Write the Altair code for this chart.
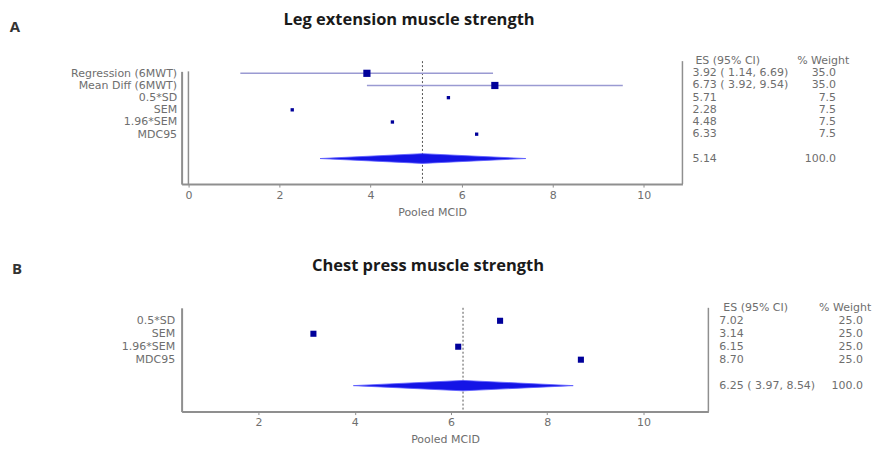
import json
import altair as alt
import pandas as pd

# ---------------- data: panel A (Leg extension) ----------------
A_LABELS = ["Regression (6MWT)", "Mean Diff (6MWT)", "0.5*SD", "SEM", "1.96*SEM", "MDC95"]
A_ES = [3.92, 6.73, 5.71, 2.28, 4.48, 6.33]
A_LO = [1.14, 3.92, None, None, None, None]
A_HI = [6.69, 9.54, None, None, None, None]
A_WEIGHT = [35.0, 35.0, 7.5, 7.5, 7.5, 7.5]
A_POOLED = 5.14
A_POOLED_LO = 2.89
A_POOLED_HI = 7.41
A_POOLED_SHOW_CI = False
A_TICKS = [0, 2, 4, 6, 8, 10]
A_TITLE = "Leg extension muscle strength"

# ---------------- data: panel B (Chest press) ----------------
B_LABELS = ["0.5*SD", "SEM", "1.96*SEM", "MDC95"]
B_ES = [7.02, 3.14, 6.15, 8.70]
B_LO = [None, None, None, None]
B_HI = [None, None, None, None]
B_WEIGHT = [25.0, 25.0, 25.0, 25.0]
B_POOLED = 6.25
B_POOLED_LO = 3.97
B_POOLED_HI = 8.54
B_POOLED_SHOW_CI = True
B_TICKS = [2, 4, 6, 8, 10]
B_TITLE = "Chest press muscle strength"

TEXT = "#6e6e6e"
AXIS = "#8f8f8f"
SQUARE = "#00009a"
CI = "#9a9ad2"
DIAMOND = "#1414e6"
FONT = "DejaVu Sans"
TFONT = "Open Sans"


def fmt_es(es, lo, hi):
    if lo is None or pd.isna(lo):
        return f"{es:.2f}"
    return f"{es:.2f} ( {lo:.2f}, {hi:.2f})"


def panel(labels, es, lo, hi, weight, pooled, plo, phi, show_ci, ticks, title, letter,
          xdom, ydom, width, height, size_max, geo):
    n = len(labels)
    prow = n + 1
    rows = pd.DataFrame({"row": list(range(n)), "es": es, "lo": lo, "hi": hi, "w": weight})
    ci = rows.dropna(subset=["lo"])

    xs = alt.Scale(domain=xdom, nice=False, zero=False)
    ys = alt.Scale(domain=ydom, nice=False, zero=False, reverse=True)
    xaxis = alt.Axis(values=ticks, format="d", grid=False, title="Pooled MCID",
                     domainColor=AXIS, domainWidth=2, tickColor=AXIS, tickSize=3,
                     labelColor=TEXT, labelFont=FONT, labelFontSize=11, labelPadding=2,
                     labelFlush=False, titleFont=FONT, titleFontSize=11,
                     titleFontWeight="normal", titleColor=TEXT, titlePadding=6)
    yaxis = alt.Axis(values=list(range(n)), labelExpr=f"{json.dumps(labels)}[datum.value]",
                     grid=False, ticks=False, title=None, domainColor=AXIS, domainWidth=2,
                     labelColor=TEXT, labelFont=FONT, labelFontSize=11,
                     labelPadding=geo["ylabpad"], labelOverlap=False, labelFlush=False)

    def X(f):
        return alt.X(f, type="quantitative", scale=xs, axis=xaxis)

    def Y(f):
        return alt.Y(f, type="quantitative", scale=ys, axis=yaxis)

    layers = []
    # vertical reference lines
    if xdom[0] < 0:
        null_df = pd.DataFrame({"x": [0], "y": [ydom[0]], "y2": [ydom[1]]})
        layers.append(alt.Chart(null_df).mark_rule(color=AXIS, strokeWidth=1.5).encode(
            x=X("x"), y=Y("y"), y2="y2"))
    sep_df = pd.DataFrame({"x": [xdom[1]], "y": [-1], "y2": [ydom[1]]})
    layers.append(alt.Chart(sep_df).mark_rule(color=AXIS, strokeWidth=1.5).encode(
        x=X("x"), y=Y("y"), y2="y2"))
    pool_df = pd.DataFrame({"x": [pooled], "y": [-1], "y2": [ydom[1]]})
    layers.append(alt.Chart(pool_df).mark_rule(color="#555555", strokeWidth=1,
                                               strokeDash=[2, 2]).encode(
        x=X("x"), y=Y("y"), y2="y2"))
    # confidence intervals
    if len(ci):
        layers.append(alt.Chart(ci).mark_rule(color=CI, strokeWidth=1.5).encode(
            x=X("lo"), x2="hi", y=Y("row")))
    # squares sized by weight
    layers.append(alt.Chart(rows).mark_point(shape="square", filled=True, opacity=1,
                                             color=SQUARE).encode(
        x=X("es"), y=Y("row"),
        size=alt.Size("w", type="quantitative",
                      scale=alt.Scale(domain=[0, max(weight)], range=[0, size_max]),
                      legend=None)))
    # pooled diamond
    h = 0.4
    dia = pd.DataFrame({"x": [plo, pooled, phi],
                        "y": [prow, prow - h, prow], "y2": [prow, prow + h, prow]})
    layers.append(alt.Chart(dia).mark_area(color=DIAMOND, opacity=1,
                                           stroke="#5a5aff", strokeWidth=0.8).encode(
        x=X("x"), y=Y("y"), y2="y2"))
    # right-hand text columns
    es_txt = [fmt_es(e, l, u) for e, l, u in zip(es, lo, hi)]
    es_txt.append(fmt_es(pooled, plo if show_ci else None, phi))
    w_txt = [f"{w:.1f}" for w in weight] + ["100.0"]
    tdf = pd.DataFrame({"row": list(range(n)) + [prow], "es": es_txt, "w": w_txt})
    layers.append(alt.Chart(tdf).mark_text(align="left", baseline="middle", font=FONT,
                                           fontSize=11, color=TEXT).encode(
        x=alt.value(geo["es_x"]), y=Y("row"), text="es"))
    layers.append(alt.Chart(tdf).mark_text(align="right", baseline="middle", font=FONT,
                                           fontSize=11, color=TEXT).encode(
        x=alt.value(geo["w_x"]), y=Y("row"), text="w"))
    hdr = pd.DataFrame({"row": [-1], "a": ["ES (95% CI)"], "b": ["% Weight"]})
    layers.append(alt.Chart(hdr).mark_text(align="left", baseline="middle", font=FONT,
                                           fontSize=11, color=TEXT).encode(
        x=alt.value(geo["esh_x"]), y=Y("row"), text="a"))
    layers.append(alt.Chart(hdr).mark_text(align="left", baseline="middle", font=FONT,
                                           fontSize=11, color=TEXT).encode(
        x=alt.value(geo["wh_x"]), y=Y("row"), text="b"))
    # panel title and letter
    layers.append(alt.Chart(pd.DataFrame({"t": [title]})).mark_text(
        align="center", baseline="alphabetic", font=TFONT, fontSize=16.5,
        fontWeight="bold", color="#1a1a1a").encode(
        x=alt.value(geo["title_x"]), y=alt.value(geo["title_y"]), text="t"))
    layers.append(alt.Chart(pd.DataFrame({"t": [letter]})).mark_text(
        align="center", baseline="alphabetic", font=TFONT, fontSize=15,
        fontWeight="bold", color="#333333").encode(
        x=alt.value(geo["let_x"]), y=alt.value(geo["let_y"]), text="t"))

    return alt.layer(*layers).properties(width=width, height=height)


top = panel(A_LABELS, A_ES, A_LO, A_HI, A_WEIGHT, A_POOLED, A_POOLED_LO, A_POOLED_HI,
            A_POOLED_SHOW_CI, A_TICKS, A_TITLE, "A",
            xdom=[-0.15, 10.85], ydom=[-0.16, 9.1], width=502, height=113, size_max=52,
            geo=dict(ylabpad=5, es_x=512, w_x=656, esh_x=515, wh_x=617,
                     title_x=228, title_y=-46, let_x=-167, let_y=-39))
bottom = panel(B_LABELS, B_ES, B_LO, B_HI, B_WEIGHT, B_POOLED, B_POOLED_LO, B_POOLED_HI,
               B_POOLED_SHOW_CI, B_TICKS, B_TITLE, "B",
               xdom=[0.4, 11.35], ydom=[-1, 7], width=528, height=104, size_max=60,
               geo=dict(ylabpad=7, es_x=539, w_x=683, esh_x=543, wh_x=639,
                        title_x=247, title_y=-37, let_x=-165, let_y=-34))

chart = alt.vconcat(top, bottom, spacing=41).properties(
    padding={"left": 1, "top": 4, "right": 0, "bottom": 0}
).configure_view(stroke=None)

chart.save("out.html", embed_options={"renderer": "svg", "actions": False})
